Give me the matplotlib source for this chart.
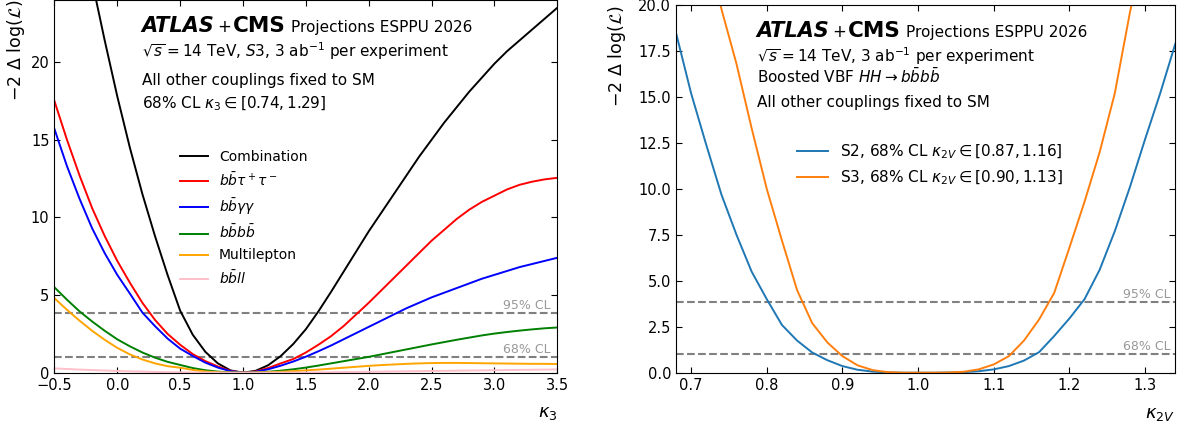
import numpy as np
import matplotlib
matplotlib.use("Agg")
import matplotlib.pyplot as plt

W, H = 1188, 423

# ---- kappa_3 likelihood scans ----
k3 = [-0.5, -0.4, -0.3, -0.2, -0.1, 0.0, 0.1, 0.2, 0.3, 0.4,
      0.5, 0.6, 0.7, 0.8, 0.9, 1.0, 1.1, 1.2, 1.3, 1.4,
      1.5, 1.6, 1.7, 1.8, 1.9, 2.0, 2.1, 2.2, 2.3, 2.4,
      2.5, 2.6, 2.7, 2.8, 2.9, 3.0, 3.1, 3.2, 3.3, 3.4, 3.5]

nll_comb = [38.0, 33.5, 29.2, 25.2, 21.4, 17.8, 14.5, 11.5, 8.8, 6.3,
            4.0, 2.45, 1.35, 0.6, 0.15, 0.0, 0.12, 0.48, 1.07, 1.85,
            2.8, 3.95, 5.2, 6.5, 7.8, 9.1, 10.3, 11.5, 12.7, 13.9,
            15.0, 16.1, 17.1, 18.1, 19.0, 19.9, 20.7, 21.4, 22.1, 22.8, 23.5]

nll_bbtautau = [17.5, 15.0, 12.7, 10.6, 8.8, 7.2, 5.8, 4.5, 3.4, 2.5,
                1.8, 1.2, 0.75, 0.4, 0.12, 0.0, 0.08, 0.3, 0.6, 0.88,
                1.3, 1.8, 2.35, 3.0, 3.75, 4.5, 5.3, 6.1, 6.9, 7.7,
                8.5, 9.2, 9.9, 10.5, 11.0, 11.4, 11.8, 12.1, 12.3, 12.45, 12.55]

nll_bbgamgam = [15.7, 13.3, 11.2, 9.3, 7.7, 6.3, 5.1, 3.87, 3.0, 2.2,
                1.55, 1.08, 0.65, 0.33, 0.1, 0.0, 0.06, 0.22, 0.45, 0.72,
                1.03, 1.38, 1.75, 2.15, 2.55, 2.95, 3.35, 3.75, 4.15, 4.5,
                4.85, 5.15, 5.45, 5.75, 6.05, 6.3, 6.55, 6.8, 7.0, 7.2, 7.4]

nll_bbbb = [5.5, 4.7, 3.95, 3.3, 2.7, 2.15, 1.7, 1.3, 0.97, 0.7,
            0.5, 0.3, 0.16, 0.07, 0.02, 0.0, 0.02, 0.06, 0.13, 0.22,
            0.33, 0.46, 0.6, 0.74, 0.88, 1.02, 1.18, 1.34, 1.5, 1.66,
            1.82, 1.97, 2.12, 2.26, 2.4, 2.52, 2.62, 2.71, 2.79, 2.86, 2.91]

nll_multilep = [4.8, 4.05, 3.35, 2.7, 2.12, 1.6, 1.18, 0.85, 0.6, 0.42,
                0.32, 0.18, 0.08, 0.03, 0.0, 0.0, 0.01, 0.03, 0.06, 0.1,
                0.15, 0.2, 0.26, 0.32, 0.38, 0.44, 0.49, 0.53, 0.57, 0.6,
                0.62, 0.63, 0.63, 0.62, 0.61, 0.6, 0.59, 0.58, 0.57, 0.57, 0.56]

nll_bbll = [0.28, 0.24, 0.2, 0.17, 0.14, 0.11, 0.09, 0.07, 0.05, 0.035,
            0.025, 0.015, 0.008, 0.004, 0.001, 0.0, 0.001, 0.003, 0.006, 0.01,
            0.015, 0.02, 0.03, 0.04, 0.05, 0.06, 0.07, 0.08, 0.09, 0.1,
            0.11, 0.12, 0.13, 0.14, 0.15, 0.16, 0.17, 0.18, 0.19, 0.2, 0.21]

k3_channels = [
    ("Combination", nll_comb, "black"),
    (r"$b\bar{b}\tau^+\tau^-$", nll_bbtautau, "red"),
    (r"$b\bar{b}\gamma\gamma$", nll_bbgamgam, "blue"),
    (r"$b\bar{b}b\bar{b}$", nll_bbbb, "green"),
    ("Multilepton", nll_multilep, "orange"),
    (r"$b\bar{b}ll$", nll_bbll, "pink"),
]

# ---- kappa_2V scans (boosted VBF HH -> 4b) ----
k2v = [0.68, 0.70, 0.72, 0.74, 0.76, 0.78, 0.80, 0.82, 0.84, 0.86,
       0.88, 0.90, 0.92, 0.94, 0.96, 0.98, 1.00, 1.02, 1.04, 1.06,
       1.08, 1.10, 1.12, 1.14, 1.16, 1.18, 1.20, 1.22, 1.24, 1.26,
       1.28, 1.30, 1.32, 1.34]

nll_s2 = [18.5, 15.2, 12.4, 9.7, 7.5, 5.5, 4.0, 2.6, 1.75, 1.1,
          0.68, 0.36, 0.16, 0.06, 0.015, 0.0, 0.0, 0.0, 0.01, 0.03,
          0.08, 0.18, 0.36, 0.66, 1.12, 2.0, 2.95, 4.0, 5.6, 7.7,
          10.1, 12.7, 15.2, 17.9]

nll_s3 = [30.0, 27.0, 23.5, 19.8, 16.8, 13.3, 10.0, 7.2, 4.5, 2.7,
          1.65, 0.9, 0.4, 0.14, 0.03, 0.0, 0.0, 0.0, 0.01, 0.05,
          0.18, 0.45, 0.9, 1.75, 2.9, 4.35, 6.8, 9.3, 12.0, 15.2,
          19.6, 23.5, 28.0, 33.0]

k2v_scenarios = [
    (r"S2, 68% CL $\kappa_{2V} \in [0.87, 1.16]$", nll_s2, "tab:blue"),
    (r"S3, 68% CL $\kappa_{2V} \in [0.90, 1.13]$", nll_s3, "tab:orange"),
]

cl_levels = [(1.0, "68% CL"), (3.84, "95% CL")]

fig = plt.figure(figsize=(W / 100, H / 100), dpi=100)
ax1 = fig.add_axes([54.4 / W, 50.3 / H, 502.9 / W, 372.7 / H])
ax2 = fig.add_axes([676.0 / W, 50.3 / H, 499.3 / W, 367.5 / H])

for name, vals, col in k3_channels:
    ax1.plot(k3, vals, color=col, lw=1.4, label=name)
for name, vals, col in k2v_scenarios:
    ax2.plot(k2v, vals, color=col, lw=1.4, label=name)

ax1.set_xlim(-0.5, 3.5)
ax1.set_ylim(0, 24)
ax1.set_xticks(np.arange(-0.5, 3.51, 0.5))
ax1.set_yticks([0, 5, 10, 15, 20])

ax2.set_xlim(0.68, 1.34)
ax2.set_ylim(0, 20)
ax2.set_xticks(np.arange(0.7, 1.31, 0.1))
ax2.set_yticks(np.arange(0, 20.1, 2.5))

for ax, xtxt in [(ax1, 3.447), (ax2, 1.334)]:
    for lvl, lab in cl_levels:
        ax.axhline(lvl, color="gray", ls="--", lw=1.5, zorder=0)
        ax.text(xtxt, lvl + 0.06, lab, ha="right", va="bottom",
                color="gray", alpha=0.8, fontsize=9)
    ax.tick_params(direction="in", top=True, right=True, labelsize=10.5,
                   length=4, width=0.8)
    ax.set_ylabel(r"$-2\ \Delta\ \log(\mathcal{L})$", fontsize=12.5, loc="top")

ax1.set_xlabel(r"$\kappa_3$", fontsize=13, loc="right")
ax2.set_xlabel(r"$\kappa_{2V}$", fontsize=13, loc="right")
ax1.yaxis.set_label_coords(-0.054, 1.0)
ax2.yaxis.set_label_coords(-0.096, 1.0)
ax1.xaxis.set_label_coords(1.0, -0.085)
ax2.xaxis.set_label_coords(1.0, -0.087)

ax1.legend(loc="upper left", bbox_to_anchor=(0.2386, 0.612), frameon=False,
           fontsize=10, borderaxespad=0)
ax2.legend(loc="upper left", bbox_to_anchor=(0.230, 0.643), frameon=False,
           fontsize=11, borderaxespad=0)


def px_text(x, y, s, **kw):
    return fig.text(x / W, 1 - y / H, s, va="baseline", ha="left", **kw)


def header(x, y):
    # ATLAS + CMS label, pieces chained left to right
    fig.canvas.draw()
    rend = fig.canvas.get_renderer()
    t = px_text(x, y, "ATLAS", fontsize=15, fontweight="bold", fontstyle="italic")
    for s, kw, gap in [("+", dict(fontsize=12), 2.5),
                       ("CMS", dict(fontsize=15.5, fontweight="bold"), 2.5),
                       ("Projections ESPPU 2026", dict(fontsize=11), 5)]:
        bb = t.get_window_extent(rend)
        t = px_text(bb.x1 + gap, y, s, **kw)


header(141.7, 31.7)
px_text(141.7, 56.7, r"$\sqrt{s} = 14$ TeV, $S3$, 3 ab$^{-1}$ per experiment", fontsize=11)
px_text(141.7, 85.0, "All other couplings fixed to SM", fontsize=11)
px_text(141.7, 108.5, r"68% CL $\kappa_3 \in [0.74, 1.29]$", fontsize=11)

header(756.6, 37.0)
px_text(756.6, 62.0, r"$\sqrt{s} = 14$ TeV, 3 ab$^{-1}$ per experiment", fontsize=11)
px_text(756.6, 83.3, r"Boosted VBF $HH \rightarrow b\bar{b}b\bar{b}$", fontsize=11)
px_text(756.6, 107.3, "All other couplings fixed to SM", fontsize=11)

fig.savefig("out.png", dpi=100)
